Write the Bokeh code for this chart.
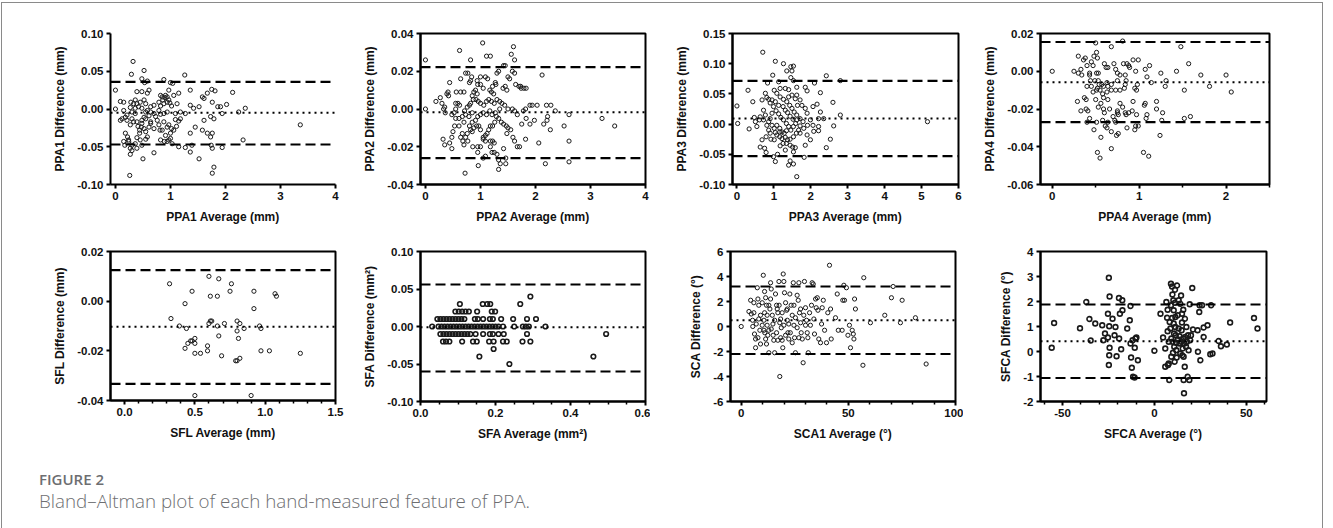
from bokeh.plotting import figure
from bokeh.layouts import row, column
from bokeh.models import Span, FixedTicker, PrintfTickFormatter, Range1d, Div, InlineStyleSheet
from bokeh.embed import file_html
from bokeh.resources import INLINE

# ---------------- DATA ----------------
ppa1_pts = [(0.32,0.063),(0.29,0.046),(0.52,0.051),(0.48,0.040),(0.58,0.037),(0.53,0.035),(0.88,0.039),(1.00,0.035),
(1.04,0.034),(1.26,0.045),(0.97,0.025),(0.91,0.018),(0.94,0.016),(1.06,0.018),(1.15,0.021),(1.36,0.025),(1.58,0.016),
(1.61,0.014),(1.76,0.009),(1.81,0.024),(1.75,0.026),(1.67,0.021),(2.13,0.022),(2.02,0.006),(1.86,0.003),(1.91,0.003),
(2.36,0.001),(2.24,-0.004),(1.94,-0.006),(1.79,-0.013),(1.61,-0.015),(1.58,-0.028),(1.67,-0.032),(1.76,-0.032),
(1.73,-0.037),(1.45,-0.024),(1.36,-0.032),(1.18,-0.013),(1.09,-0.014),(1.15,-0.016),(1.11,-0.023),(1.06,-0.028),
(1.02,-0.026),(0.97,-0.021),(0.94,-0.024),(0.88,-0.017),(0.81,-0.028),(0.70,-0.026),(0.64,-0.017),(0.76,-0.015),
(0.82,-0.007),(0.88,-0.006),(0.94,-0.004),(1.02,0.004),(0.99,0.008),(0.94,0.009),(0.97,0.012),(0.86,0.012),(0.90,0.015),
(0.82,0.004),(0.79,-0.002),(0.70,-0.006),(0.64,-0.004),(0.61,-0.009),(0.55,-0.013),(0.52,-0.011),(0.48,-0.015),
(0.48,-0.019),(0.41,-0.023),(0.44,-0.028),(0.44,-0.032),(0.39,-0.038),(0.45,-0.041),(0.48,-0.048),(0.55,-0.040),
(0.58,-0.037),(0.61,-0.024),(0.64,-0.019),(0.55,-0.004),(0.48,0.001),(0.42,0.003),(0.36,0.001),(0.30,-0.004),
(0.27,0.002),(0.21,-0.008),(0.15,-0.002),(0.12,-0.013),(0.09,-0.015),(0.18,-0.011),(0.21,-0.015),(0.30,-0.013),
(0.36,-0.006),(0.39,0.007),(0.33,0.007),(0.45,0.009),(0.52,0.012),(0.55,0.007),(0.58,0.021),(0.61,0.025),(0.48,0.023),
(0.39,0.023),(0.36,0.012),(0.28,0.009),(0.15,0.009),(0.09,0.010),(0.15,-0.043),(0.17,-0.048),(0.24,-0.043),
(0.27,-0.052),(0.27,-0.060),(0.30,-0.048),(0.36,-0.046),(0.39,-0.052),(0.30,-0.055),(0.50,-0.066),(0.26,-0.088),
(0.70,-0.058),(0.82,-0.041),(0.89,-0.043),(0.97,-0.041),(1.00,-0.039),(1.03,-0.046),(1.15,-0.050),(1.27,-0.051),
(1.36,-0.057),(1.39,-0.048),(1.52,-0.066),(1.74,-0.048),(1.76,-0.052),(1.79,-0.077),(1.76,-0.085),(1.94,-0.051),
(2.32,-0.041),(3.36,-0.021),(1.00,-0.032),(0.91,-0.035),(0.85,-0.028),(0.79,-0.021),(0.73,-0.010),(0.64,0.003),
(0.70,0.005),(0.79,0.009),(0.82,0.018),(0.85,0.016),(0.88,0.007),(1.12,0.007),(1.09,-0.006),(1.18,-0.004),
(1.27,-0.006),(1.36,0.005),(1.42,0.001),(1.52,0.003),(1.73,-0.010),(0.94,-0.043),(0.58,-0.002),(0.39,-0.017),
(0.47,-0.024),(0.52,-0.026),(0.55,-0.030),(0.33,-0.017),(0.27,-0.021),(0.18,-0.032),(0.22,-0.037),(0.24,-0.041),
(0.00,0.025),(0.00,0.000)]
ppa1_lines = [0.036, -0.005, -0.047]   # upper LoA, mean, lower LoA

ppa2_pts = [(0.00,0.026),(0.00,0.000),(0.62,0.031),(1.04,0.035),(1.11,0.028),(1.18,0.028),(0.82,0.026),(1.60,0.033),
(1.56,0.029),(1.62,0.026),(1.42,0.023),(1.45,0.023),(1.33,0.020),(1.30,0.019),(1.58,0.020),(1.62,0.019),(2.12,0.018),
(0.73,0.019),(0.77,0.019),(0.84,0.017),(1.00,0.017),(1.09,0.017),(1.13,0.016),(0.82,0.015),(0.94,0.015),(0.95,0.013),
(1.00,0.013),(0.44,0.014),(0.64,0.016),(0.80,0.014),(1.27,0.014),(1.28,0.013),(1.50,0.017),(1.53,0.016),(1.64,0.013),
(1.70,0.012),(1.74,0.011),(1.79,0.011),(1.83,0.011),(1.73,0.012),(1.45,0.012),(1.41,0.011),(1.48,0.010),(1.22,0.012),
(1.17,0.010),(1.20,0.009),(1.24,0.008),(1.05,0.011),(0.91,0.010),(0.88,0.009),(0.94,0.008),(0.85,0.007),(0.70,0.009),
(0.64,0.009),(0.56,0.009),(0.41,0.009),(0.39,0.008),(0.42,0.007),(0.27,0.006),(0.19,0.004),(0.30,0.003),(0.33,0.000),
(0.36,-0.002),(0.35,0.001),(0.55,0.003),(0.59,0.003),(0.62,0.002),(0.55,0.000),(0.52,-0.002),(0.48,-0.003),
(0.55,-0.005),(0.61,-0.005),(0.67,-0.004),(0.73,-0.003),(0.71,-0.001),(0.76,0.001),(0.82,0.003),(0.87,0.005),
(0.92,0.005),(0.96,0.004),(1.00,0.003),(1.06,0.002),(1.11,0.004),(1.15,0.005),(1.20,0.004),(1.25,0.003),(1.30,0.005),
(1.35,0.004),(1.39,0.003),(1.44,0.002),(1.50,0.000),(1.58,0.000),(1.62,-0.001),(1.67,-0.003),(1.78,-0.001),
(1.82,0.000),(1.90,0.002),(1.94,0.002),(2.03,0.002),(2.20,0.002),(2.28,0.002),(2.36,-0.001),(2.22,-0.004),
(2.21,-0.006),(2.15,-0.008),(2.27,-0.011),(1.98,-0.006),(1.90,-0.008),(1.83,-0.005),(1.75,-0.008),(2.52,-0.009),
(2.61,-0.003),(3.21,-0.005),(3.44,-0.009),(2.61,-0.017),(2.06,-0.018),(2.18,-0.029),(2.61,-0.028),(1.82,-0.016),
(1.62,-0.017),(1.59,-0.015),(1.67,-0.020),(1.71,-0.020),(1.55,-0.011),(1.48,-0.013),(1.50,-0.010),(1.47,-0.009),
(1.42,-0.008),(1.38,-0.007),(1.33,-0.005),(1.29,-0.004),(1.26,-0.007),(1.22,-0.009),(1.18,-0.009),(1.15,-0.011),
(1.12,-0.013),(1.09,-0.014),(1.05,-0.015),(1.00,-0.011),(0.97,-0.009),(0.93,-0.009),(0.88,-0.010),(0.85,-0.012),
(0.82,-0.011),(0.80,-0.009),(0.85,-0.007),(0.91,-0.006),(0.95,-0.004),(1.00,-0.003),(1.05,-0.002),(1.11,-0.003),
(1.17,-0.001),(1.21,-0.003),(1.27,-0.002),(1.35,0.000),(0.76,-0.013),(0.73,-0.015),(0.77,-0.017),(0.67,-0.013),
(0.64,-0.015),(0.68,-0.017),(0.48,-0.015),(0.50,-0.012),(0.44,-0.018),(0.32,-0.016),(0.35,-0.019),(0.48,-0.021),
(0.70,-0.019),(0.86,-0.020),(0.95,-0.020),(1.00,-0.020),(1.05,-0.016),(1.09,-0.017),(1.18,-0.017),(1.22,-0.017),
(1.25,-0.018),(1.18,-0.020),(1.21,-0.023),(1.25,-0.023),(1.30,-0.024),(1.09,-0.025),(1.05,-0.026),(0.95,-0.023),
(1.33,-0.027),(1.36,-0.029),(1.33,-0.032),(1.46,-0.026),(1.46,-0.029),(1.42,-0.021),(0.96,-0.030),(0.72,-0.034),
(0.80,0.002),(0.85,-0.002),(0.79,-0.004),(0.70,-0.007),(0.61,-0.009),(0.53,-0.009)]
ppa2_lines = [0.0222, -0.0017, -0.0260]

ppa3_pts = [(0.00,0.030),(0.02,0.001),(0.30,0.056),(0.33,-0.008),(0.43,0.037),(0.47,0.011),(0.50,0.004),(0.61,0.007),
(0.70,0.119),(0.63,-0.038),(0.75,-0.040),(0.79,-0.047),(0.68,0.040),(0.72,0.023),(0.77,0.051),(0.81,0.044),(0.86,0.041),
(0.90,0.035),(0.83,0.068),(0.97,0.081),(1.04,0.104),(1.26,0.100),(1.35,0.088),(1.46,0.095),(1.53,0.096),(1.49,0.088),
(1.46,0.077),(1.53,0.072),(1.13,0.070),(1.17,0.059),(1.31,0.059),(1.40,0.057),(1.62,0.061),(1.85,0.061),(1.90,0.055),
(2.10,0.068),(2.26,0.052),(2.42,0.080),(2.80,0.072),(2.60,0.036),(2.80,0.015),(2.62,-0.003),(2.53,-0.025),(2.42,-0.039),
(2.17,0.033),(2.06,0.029),(2.26,0.020),(2.21,0.009),(2.35,0.009),(2.06,-0.002),(2.21,-0.004),(2.08,-0.012),(2.21,-0.011),
(1.99,-0.026),(1.90,-0.018),(1.85,-0.035),(1.82,-0.055),(1.58,-0.039),(1.53,-0.046),(1.51,-0.038),(1.62,-0.087),
(1.53,-0.066),(1.40,-0.068),(1.44,-0.061),(1.31,-0.043),(1.25,-0.032),(1.17,-0.036),(1.10,-0.050),(1.04,-0.062),
(0.99,-0.054),(0.86,-0.010),(0.90,-0.015),(0.92,-0.025),(1.01,-0.026),(1.08,-0.018),(1.16,-0.021),(1.22,-0.024),
(1.31,-0.022),(1.37,-0.026),(1.44,-0.025),(1.53,-0.021),(1.61,-0.015),(1.67,-0.010),(1.71,-0.003),(1.79,0.004),
(1.71,0.009),(1.62,0.015),(1.55,0.020),(1.49,0.026),(1.43,0.031),(1.35,0.037),(1.26,0.041),(1.17,0.045),(1.08,0.051),
(1.01,0.056),(0.95,0.040),(0.99,0.029),(1.06,0.022),(1.13,0.017),(1.19,0.011),(1.26,0.007),(1.34,0.001),(1.40,-0.004),
(1.46,-0.010),(1.53,-0.004),(1.59,0.001),(1.62,0.007),(1.52,0.008),(1.44,0.013),(1.37,0.019),(1.31,0.023),(1.25,0.029),
(1.13,0.031),(1.04,0.037),(0.95,0.018),(0.90,0.009),(0.86,0.004),(0.95,-0.002),(1.01,-0.007),(1.08,-0.002),
(1.16,-0.007),(1.22,-0.013),(1.28,-0.015),(1.34,-0.011),(1.16,-0.013),(1.04,-0.014),(0.81,-0.002),(0.72,0.007),
(0.77,0.015),(0.79,-0.021),(1.71,0.040),(1.76,0.031),(1.64,0.031),(1.58,0.042),(1.62,0.048),(1.49,0.048),(1.40,0.045),
(1.85,0.026),(1.90,0.018),(1.99,0.007),(1.91,-0.002),(1.81,-0.007),(1.71,-0.015),(1.34,-0.032),(1.44,-0.035),
(5.16,0.004),(0.68,-0.026),(0.54,-0.004),(0.63,0.012)]
ppa3_lines = [0.0717, 0.0094, -0.0530]

ppa4_pts = [(0.00,0.000),(0.25,0.000),(0.30,0.008),(0.36,0.006),(0.38,0.007),(0.40,0.003),(0.33,0.001),(0.34,-0.002),
(0.30,-0.001),(0.43,-0.001),(0.43,-0.002),(0.47,0.003),(0.45,0.005),(0.48,0.008),(0.51,0.010),(0.52,0.007),(0.50,0.015),
(0.68,0.013),(0.51,-0.001),(0.53,-0.001),(0.60,0.004),(0.64,0.002),(0.62,0.002),(0.71,0.004),(0.75,-0.001),(0.78,-0.002),
(0.73,0.001),(0.82,0.004),(0.86,0.004),(0.88,0.003),(0.89,0.002),(0.93,0.006),(0.99,0.006),(0.81,0.016),(0.96,0.000),
(0.84,-0.002),(1.07,0.001),(1.09,-0.003),(1.12,0.003),(1.14,-0.006),(1.25,-0.001),(1.31,-0.005),(1.30,-0.008),
(1.43,0.000),(1.48,0.013),(1.57,0.004),(1.52,-0.010),(1.71,-0.002),(1.81,-0.008),(2.00,-0.002),(2.06,-0.011),
(1.59,-0.024),(1.52,-0.025),(1.27,-0.022),(1.20,-0.016),(1.20,-0.020),(1.24,-0.034),(1.26,-0.026),(1.07,-0.017),
(1.06,-0.018),(1.09,-0.023),(1.08,-0.025),(1.05,-0.043),(1.11,-0.045),(0.97,-0.010),(0.95,-0.009),(0.98,-0.007),
(0.93,-0.016),(0.97,-0.023),(0.96,-0.029),(0.99,-0.029),(0.95,-0.031),(0.92,-0.021),(0.88,-0.022),(0.84,-0.022),
(0.85,-0.023),(0.86,-0.030),(0.81,-0.019),(0.78,-0.017),(0.75,-0.021),(0.75,-0.022),(0.76,-0.023),(0.70,-0.024),
(0.72,-0.026),(0.73,-0.027),(0.76,-0.033),(0.74,-0.034),(0.68,-0.032),(0.68,-0.041),(0.64,-0.027),(0.63,-0.030),
(0.61,-0.029),(0.66,-0.020),(0.64,-0.015),(0.59,-0.020),(0.60,-0.022),(0.56,-0.017),(0.59,-0.014),(0.58,-0.012),
(0.63,-0.011),(0.64,-0.008),(0.68,-0.010),(0.73,-0.010),(0.78,-0.010),(0.83,-0.009),(0.84,-0.007),(0.85,-0.005),
(0.75,-0.005),(0.68,-0.007),(0.63,-0.006),(0.59,-0.008),(0.57,-0.007),(0.54,-0.007),(0.52,-0.009),(0.55,-0.010),
(0.51,-0.010),(0.47,-0.011),(0.45,-0.008),(0.44,-0.005),(0.49,-0.005),(0.53,-0.005),(0.40,-0.008),(0.37,-0.014),
(0.39,-0.015),(0.29,-0.016),(0.33,-0.021),(0.39,-0.020),(0.41,-0.021),(0.40,-0.027),(0.43,-0.025),(0.48,-0.031),
(0.51,-0.027),(0.56,-0.035),(0.52,-0.043),(0.55,-0.046),(0.58,-0.026),(0.53,-0.019),(0.50,-0.015)]
ppa4_lines = [0.0155, -0.0058, -0.0270]

sfl_pts = [(0.32,0.007),(0.33,-0.007),(0.39,-0.010),(0.43,-0.001),(0.44,-0.011),(0.43,-0.019),(0.45,-0.017),
(0.47,-0.016),(0.48,-0.016),(0.50,-0.015),(0.50,-0.017),(0.50,-0.021),(0.48,0.004),(0.50,-0.038),(0.54,-0.021),
(0.60,0.010),(0.61,0.002),(0.60,-0.009),(0.61,-0.008),(0.59,-0.018),(0.59,-0.020),(0.62,-0.008),(0.66,0.002),
(0.67,0.009),(0.66,-0.010),(0.67,-0.014),(0.69,-0.022),(0.71,-0.009),(0.76,0.007),(0.75,0.004),(0.80,-0.008),
(0.80,-0.012),(0.81,-0.015),(0.82,-0.009),(0.82,-0.023),(0.79,-0.024),(0.80,-0.024),(0.85,-0.011),(0.90,-0.038),
(0.92,0.004),(0.92,-0.003),(0.96,-0.010),(0.97,-0.020),(1.03,-0.020),(1.07,0.003),(1.08,0.002),(1.25,-0.021),
(0.97,-0.011)]
sfl_lines = [0.0125, -0.0103, -0.0333]

sfa_pts = [(0.293,0.04),
(0.105,0.03),(0.166,0.03),(0.178,0.03),(0.186,0.03),(0.266,0.03),
(0.093,0.02),(0.102,0.02),(0.111,0.02),(0.120,0.02),(0.129,0.02),(0.151,0.02),(0.190,0.02),(0.199,0.02),
(0.045,0.01),(0.053,0.01),(0.061,0.01),(0.069,0.01),(0.077,0.01),(0.085,0.01),(0.093,0.01),(0.101,0.01),
(0.109,0.01),(0.117,0.01),(0.145,0.01),(0.153,0.01),(0.167,0.01),(0.185,0.01),(0.193,0.01),(0.215,0.01),
(0.247,0.01),(0.284,0.01),(0.308,0.01),
(0.031,0.0),(0.048,0.0),(0.056,0.0),(0.064,0.0),(0.072,0.0),(0.080,0.0),(0.088,0.0),(0.096,0.0),(0.104,0.0),
(0.112,0.0),(0.120,0.0),(0.128,0.0),(0.136,0.0),(0.144,0.0),(0.152,0.0),(0.160,0.0),(0.168,0.0),(0.176,0.0),
(0.184,0.0),(0.192,0.0),(0.200,0.0),(0.208,0.0),(0.220,0.0),(0.250,0.0),(0.273,0.0),(0.281,0.0),(0.289,0.0),
(0.333,0.0),
(0.053,-0.01),(0.061,-0.01),(0.069,-0.01),(0.077,-0.01),(0.085,-0.01),(0.093,-0.01),(0.101,-0.01),(0.109,-0.01),
(0.117,-0.01),(0.125,-0.01),(0.133,-0.01),(0.147,-0.01),(0.167,-0.01),(0.185,-0.01),(0.193,-0.01),(0.208,-0.01),
(0.222,-0.01),(0.284,-0.01),(0.495,-0.01),
(0.060,-0.02),(0.068,-0.02),(0.077,-0.02),(0.111,-0.02),(0.140,-0.02),(0.150,-0.02),(0.183,-0.02),(0.195,-0.02),
(0.220,-0.02),(0.230,-0.02),(0.272,-0.02),(0.293,-0.02),
(0.195,-0.03),(0.157,-0.04),(0.461,-0.04),(0.237,-0.05)]
sfa_lines = [0.056, -0.001, -0.060]

sca_pts = [(0.0,0.0),(4.4,2.1),(3.6,1.2),(4.7,1.0),(5.3,0.5),(5.9,1.9),(5.4,0.0),(6.2,-0.6),(6.7,-1.0),(6.7,-1.7),
(7.5,3.1),(7.8,2.2),(8.2,1.7),(8.2,0.6),(8.7,-0.3),(9.0,0.9),(9.8,1.9),(10.3,4.1),(10.9,2.8),(11.4,2.3),(11.8,1.7),
(10.9,1.1),(10.6,0.5),(11.0,-0.5),(11.4,-1.0),(11.8,-1.4),(12.1,0.1),(12.4,-0.7),(12.9,-0.3),(12.9,-2.1),(13.7,3.5),
(14.0,3.0),(13.7,2.2),(13.4,1.4),(14.5,0.9),(14.8,0.2),(15.2,-1.1),(15.6,-2.1),(16.0,2.6),(16.5,1.7),(16.8,1.4),
(17.1,1.1),(17.6,3.6),(18.0,-4.0),(18.4,0.6),(18.7,-0.1),(19.1,-1.1),(19.4,-1.7),(19.6,4.2),(19.9,3.6),(20.2,2.7),
(20.7,1.9),(21.2,1.3),(21.5,0.5),(21.8,-0.5),(22.2,-1.0),(22.7,2.6),(23.3,1.7),(23.8,0.9),(24.3,3.5),(24.6,0.1),
(24.9,-0.9),(25.3,-2.1),(26.1,2.5),(26.6,2.1),(26.9,3.5),(27.2,1.1),(27.7,0.3),(28.0,-0.5),(28.5,-1.0),(28.9,-2.9),
(29.5,3.6),(30.0,1.5),(30.5,0.5),(30.8,-0.5),(31.3,-2.1),(31.9,1.1),(32.3,0.1),(32.8,1.7),(33.1,3.5),(33.6,3.4),
(33.9,0.6),(34.2,-0.6),(34.7,2.2),(35.0,1.5),(35.5,2.3),(35.8,1.3),(36.2,-1.0),(37.0,-1.3),(37.5,0.2),(37.8,1.5),
(38.3,2.1),(38.9,-0.3),(39.8,-1.3),(40.4,1.1),(41.2,4.9),(41.7,1.4),(42.0,-1.0),(44.0,0.7),(44.8,2.6),(45.3,-0.3),
(47.1,-0.3),(47.4,2.1),(48.2,2.1),(47.9,3.3),(49.1,3.1),(49.8,-0.7),(50.5,0.1),(51.0,-1.7),(51.8,-0.3),(52.3,-0.6),
(52.6,-1.0),(52.9,2.2),(53.3,1.4),(56.8,-3.1),(57.2,3.9),(60.3,0.3),(67.0,0.9),(70.1,2.3),(70.9,3.2),(74.3,0.3),
(75.1,2.1),(81.3,0.7),(86.3,-3.0),(5.9,1.1),(7.0,0.2),(7.8,-0.9),(9.0,-1.4),(9.8,0.1),(10.6,-0.3),(12.1,0.9),
(12.9,1.7),(14.0,-0.2),(14.9,-0.7),(15.6,0.5),(16.5,-0.5),(17.1,-1.1),(17.7,1.7),(18.0,0.3),(18.4,-0.9),(19.1,1.1),
(19.9,0.1),(20.7,-0.7),(21.5,1.4),(22.2,0.2),(22.9,-0.5),(23.8,-1.3),(24.6,1.7),(25.3,0.7),(26.1,-0.1),(26.9,-0.9),
(27.7,1.4),(29.2,0.9),(30.0,0.1),(31.1,-0.9)]
sca_lines = [3.2, 0.5, -2.2]

sfca_pts = [(-55.9,0.15),(-54.6,1.14),(-40.5,0.93),(-37.1,1.98),(-35.4,1.30),(-34.7,0.44),(-32.2,1.12),(-28.4,1.05),
(-27.8,0.45),(-26.9,0.72),(-25.3,0.56),(-25.3,1.51),(-24.8,2.95),(-24.4,2.20),(-24.6,1.01),(-24.4,0.15),(-24.6,-0.15),
(-24.8,-0.54),(-22.8,1.31),(-21.7,0.65),(-21.2,0.98),(-20.6,-0.19),(-19.3,2.14),(-19.2,0.52),(-18.8,1.51),(-18.1,0.09),
(-17.5,2.05),(-17.4,1.65),(-14.8,0.92),(-13.4,1.25),(-13.0,1.82),(-13.0,0.32),(-12.7,-0.24),(-12.3,-0.65),(-11.9,0.45),
(-11.6,-1.01),(-10.8,-1.04),(-10.7,0.15),(-10.3,0.52),(-9.8,0.56),(-9.0,-0.35),(0.0,0.03),(3.3,1.51),(4.7,0.56),
(5.9,0.12),(5.9,-0.61),(6.5,1.98),(6.9,1.35),(7.2,1.67),(7.2,0.81),(7.4,-0.54),(7.8,0.39),(7.8,-0.48),(8.1,-1.14),
(8.3,1.18),(8.7,0.92),(9.0,2.71),(9.0,1.85),(9.2,0.52),(9.2,-0.21),(9.6,2.60),(9.6,1.34),(9.8,2.28),(9.9,0.39),
(10.1,-0.05),(10.3,2.05),(10.5,1.65),(10.5,1.12),(10.7,0.72),(10.8,0.19),(11.0,-0.41),(11.2,2.47),(11.2,1.95),
(11.4,1.38),(11.4,0.98),(11.6,0.65),(11.8,0.35),(11.9,0.05),(12.1,-0.24),(12.3,2.64),(12.7,1.45),(12.8,0.48),
(13.2,2.05),(13.2,0.92),(13.6,0.32),(13.7,0.61),(14.1,1.91),(14.1,-0.08),(14.5,2.24),(14.6,0.39),(14.8,0.85),
(15.0,1.16),(15.0,1.51),(15.2,-0.15),(15.4,0.12),(15.6,0.52),(15.7,1.67),(15.9,-0.21),(15.9,-1.14),(16.1,-1.67),
(16.3,0.32),(16.5,-0.61),(16.6,1.31),(16.8,0.58),(17.2,0.19),(17.4,0.98),(17.7,0.39),(18.1,-1.01),(18.3,0.65),
(18.6,0.05),(19.0,-1.14),(19.2,1.89),(19.5,0.45),(19.9,0.65),(20.6,2.54),(21.0,0.88),(23.5,0.85),(23.7,-0.01),
(24.4,1.58),(24.6,1.85),(25.0,-0.35),(25.9,1.85),(26.8,0.58),(26.8,0.96),(28.9,1.05),(30.4,-0.11),(30.9,1.85),
(31.6,-0.08),(34.9,0.42),(36.2,0.21),(39.4,0.28),(41.2,1.16),(54.2,1.34),(56.1,0.92)]
sfca_lines = [1.88, 0.41, -1.06]

# tick positions / labels
ppa1_xticks, ppa1_yticks = [0, 1, 2, 3, 4], [-0.10, -0.05, 0.0, 0.05, 0.10]
ppa2_xticks, ppa2_yticks = [0, 1, 2, 3, 4], [-0.04, -0.02, 0.0, 0.02, 0.04]
ppa3_xticks, ppa3_yticks = [0, 1, 2, 3, 4, 5, 6], [-0.10, -0.05, 0.0, 0.05, 0.10, 0.15]
ppa4_xticks, ppa4_yticks = [0, 1, 2], [-0.06, -0.04, -0.02, 0.0, 0.02]
ppa4_xminor = [0.5, 1.5, 2.5]
sfl_xticks, sfl_yticks = [0.0, 0.5, 1.0, 1.5], [-0.04, -0.02, 0.0, 0.02]
sfl_xminor = [0.1, 0.2, 0.3, 0.4, 0.6, 0.7, 0.8, 0.9, 1.1, 1.2, 1.3, 1.4]
sfa_xticks, sfa_yticks = [0.0, 0.2, 0.4, 0.6], [-0.10, -0.05, 0.0, 0.05, 0.10]
sfa_xminor = [0.05, 0.1, 0.15, 0.25, 0.3, 0.35, 0.45, 0.5, 0.55]
sca_xticks, sca_yticks = [0, 50, 100], [-6, -4, -2, 0, 2, 4, 6]
sca_xminor = [10, 20, 30, 40, 60, 70, 80, 90]
sfca_xticks, sfca_yticks = [-50, 0, 50], [-2, -1, 0, 1, 2, 3, 4]
sfca_xminor = [-60, -40, -30, -20, -10, 10, 20, 30, 40, 60]

FONT = "Liberation Sans"


def panel(pts, lines, xr, yr, xticks, yticks, xfmt, yfmt, xlabel, ylabel,
          fw, fh, bl, br, bt, bb, boxed=True, xminor=None, msize=4.2, mlw=1.0):
    p = figure(frame_width=fw, frame_height=fh, min_border_left=bl, min_border_right=br,
               min_border_top=bt, min_border_bottom=bb,
               x_range=Range1d(*xr), y_range=Range1d(*yr),
               output_backend="svg", toolbar_location=None, tools="")
    p.grid.visible = False
    p.background_fill_color = "white"
    p.border_fill_color = "white"
    if boxed:
        p.outline_line_color = "black"
        p.outline_line_width = 2
        p.outline_line_alpha = 1.0
    else:
        p.outline_line_color = None
    xs = [a for a, b in pts]
    ys = [b for a, b in pts]
    p.scatter(xs, ys, marker="circle", size=msize, fill_color=None,
              line_color="#1a1a1a", line_width=mlw)
    up, mean, lo = lines
    p.add_layout(Span(location=up, dimension="width", line_color="black", line_width=2.2, line_dash="10 5"))
    p.add_layout(Span(location=lo, dimension="width", line_color="black", line_width=2.2, line_dash="10 5"))
    p.add_layout(Span(location=mean, dimension="width", line_color="black", line_width=2, line_dash="2 4"))
    p.xaxis.ticker = FixedTicker(ticks=xticks, minor_ticks=xminor or [])
    p.yaxis.ticker = FixedTicker(ticks=yticks)
    p.xaxis.formatter = PrintfTickFormatter(format=xfmt)
    p.yaxis.formatter = PrintfTickFormatter(format=yfmt)
    p.xaxis.axis_label = xlabel
    p.yaxis.axis_label = ylabel
    for ax in (p.xaxis, p.yaxis):
        ax.axis_line_width = 2
        ax.axis_line_color = "black"
        ax.major_tick_line_width = 2
        ax.major_tick_line_color = "black"
        ax.major_tick_out = 4
        ax.major_tick_in = 0
        ax.minor_tick_line_width = 1.5
        ax.minor_tick_line_color = "black"
        ax.minor_tick_out = 3
        ax.minor_tick_in = 0
        ax.major_label_text_font = FONT
        ax.major_label_text_font_style = "bold"
        ax.major_label_text_font_size = "11.5px"
        ax.major_label_text_color = "#111111"
        ax.axis_label_text_font = FONT
        ax.axis_label_text_font_style = "bold"
        ax.axis_label_text_font_size = "12px"
        ax.axis_label_text_color = "#111111"
        ax.major_label_standoff = 3
        ax.axis_label_standoff = 7
    p.yaxis.minor_tick_line_color = None
    if not xminor:
        p.xaxis.minor_tick_line_color = None
    return p


# row 1
f1 = panel(ppa1_pts, ppa1_lines, (-0.09, 4), (-0.10, 0.10), ppa1_xticks, ppa1_yticks, "%d", "%.2f",
           "PPA1 Average (mm)", "PPA1 Difference (mm)", 225, 151, 108, 5, 30, 44, boxed=False)
f2 = panel(ppa2_pts, ppa2_lines, (-0.09, 4), (-0.04, 0.04), ppa2_xticks, ppa2_yticks, "%d", "%.2f",
           "PPA2 Average (mm)", "PPA2 Difference (mm)", 225, 151, 80, 5, 30, 44)
f3 = panel(ppa3_pts, ppa3_lines, (-0.12, 6), (-0.10, 0.15), ppa3_xticks, ppa3_yticks, "%d", "%.2f",
           "PPA3 Average (mm)", "PPA3 Difference (mm)", 226, 151, 82, 5, 30, 44)
f4 = panel(ppa4_pts, ppa4_lines, (-0.135, 2.5), (-0.06, 0.02), ppa4_xticks, ppa4_yticks, "%d", "%.2f",
           "PPA4 Average (mm)", "PPA4 Difference (mm)", 229, 151, 77, 44, 30, 44, xminor=ppa4_xminor)

# row 2
f5 = panel(sfl_pts, sfl_lines, (-0.1, 1.5), (-0.04, 0.02), sfl_xticks, sfl_yticks, "%.1f", "%.2f",
           "SFL Average (mm)", "SFL Difference (mm)", 225, 149, 108, 10, 18, 58, xminor=sfl_xminor)
f6 = panel(sfa_pts, sfa_lines, (0.0, 0.6), (-0.10, 0.10), sfa_xticks, sfa_yticks, "%.1f", "%.2f",
           "SFA Average (mm²)", "SFA Difference (mm²)", 225, 150, 75, 5, 17, 58, xminor=sfa_xminor,
           msize=4.6, mlw=1.6)
f7 = panel(sca_pts, sca_lines, (-5, 100), (-6, 6), sca_xticks, sca_yticks, "%d", "%d",
           "SCA1 Average (°)", "SCA Difference (°)", 225, 150, 80, 8, 21, 54, xminor=sca_xminor)
f8 = panel(sfca_pts, sfca_lines, (-62, 61), (-2, 4), sfca_xticks, sfca_yticks, "%d", "%d",
           "SFCA Average (°)", "SFCA Difference (°)", 226, 150, 77, 47, 23, 52, xminor=sfca_xminor,
           msize=4.8, mlw=1.6)

caption = Div(text=(
    '<div style="font-family:\'Open Sans\';color:#6d6e71;font-weight:600;font-size:15px;'
    'line-height:18px;margin:12px 0 0 32px;">FIGURE 2</div>'
    '<div style="font-family:\'Open Sans\';color:#6d6e71;font-weight:300;font-size:18.8px;'
    'line-height:24px;margin:1px 0 0 32px;">Bland\u2013Altman plot of each hand-measured feature of PPA.</div>'),
    width=1310, height=66)

frame_css = InlineStyleSheet(css=":host { border-top: 1px solid #8a8a8a; border-left: 1px solid #8a8a8a; "
                                 "border-right: 1px solid #8a8a8a; box-sizing: content-box; margin-top: 2px; margin-left: 1px; }")
layout = column(row(f1, f2, f3, f4), row(f5, f6, f7, f8), caption, stylesheets=[frame_css])

open("out.html", "w").write(file_html(layout, INLINE))
